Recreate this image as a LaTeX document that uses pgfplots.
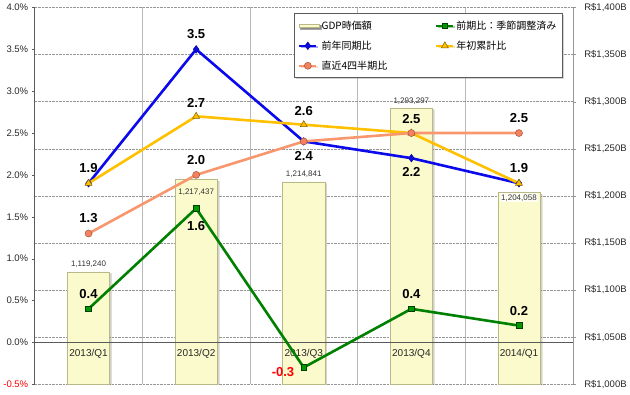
\documentclass[border=0pt]{standalone}
\usepackage{pgfplots}
\pgfplotsset{compat=1.18}
\usepackage{fontspec}
\setmainfont{Liberation Sans}
\newfontfamily\cjk{Noto Sans CJK JP}
\usetikzlibrary{shadows}
\definecolor{barfill}{RGB}{250,250,205}
\definecolor{bardraw}{RGB}{185,185,135}
\definecolor{cgreen}{RGB}{0,128,0}
\definecolor{cblue}{RGB}{10,10,235}
\definecolor{cgold}{RGB}{255,192,0}
\definecolor{corange}{RGB}{248,150,110}
\definecolor{gridgray}{RGB}{150,150,150}
\definecolor{axisgray}{RGB}{90,90,90}
\definecolor{ticktext}{RGB}{40,40,40}
\tikzset{
  lbl/.style={font=\bfseries\fontsize{13}{15}\selectfont, text=black},
  blbl/.style={font=\fontsize{8}{9}\selectfont, text=black!80},
}
\begin{document}
\begin{tikzpicture}
\pgfplotsset{
  common/.style={
    scale only axis, width=537pt, height=376pt,
    xmin=-0.5, xmax=4.5,
    tick align=outside, major tick length=3pt,
    ticklabel style={font=\fontsize{9.5}{11}\selectfont, text=ticktext},
    /pgf/number format/assume math mode=true,
  },
}
% ---------- bars (right axis) ----------
\begin{axis}[common,
  ybar, bar width=42pt,
  ymin=1000, ymax=1400,
  axis y line*=right,
  axis x line*=bottom,
  x axis line style={draw=none},
  y axis line style={draw=gridgray},
  ytick={1000,1050,1100,1150,1200,1250,1300,1350,1400},
  yticklabels={{R\$1,000B},{R\$1,050B},{R\$1,100B},{R\$1,150B},{R\$1,200B},{R\$1,250B},{R\$1,300B},{R\$1,350B},{R\$1,400B}},
  yticklabel style={xshift=5pt},
  xtick={0.5,1.5,2.5,3.5}, xticklabels={},
  xmajorgrids, ymajorgrids,
  x grid style={gray!55, solid},
  y grid style={gridgray, densely dotted},
  x tick style={draw=none},
  y tick style={gridgray},
]
\addplot[fill=barfill, draw=bardraw, line width=0.6pt,
  drop shadow={shadow xshift=1.8pt, shadow yshift=-1.8pt, opacity=0.3, fill=black!60}]
  coordinates {(0,1119.240) (1,1217.437) (2,1214.841) (3,1293.297) (4,1204.058)};
\node[blbl] at (axis cs:0,1127.7) {1,119,240};
\node[blbl] at (axis cs:1,1204.3) {1,217,437};
\node[blbl] at (axis cs:2,1223.4) {1,214,841};
\node[blbl] at (axis cs:3,1300.0) {1,293,297};
\node[blbl, fill=white, fill opacity=0.8, text opacity=1, inner sep=1pt] at (axis cs:4,1197.9) {1,204,058};
\end{axis}
% ---------- lines (left axis) ----------
\begin{axis}[common,
  ymin=-0.5, ymax=4,
  axis y line*=left,
  axis x line*=middle,
  y axis line style={draw=axisgray, line width=0.8pt},
  x axis line style={draw=axisgray, line width=0.8pt},
  ytick={-0.5,0,0.5,1,1.5,2,2.5,3,3.5,4},
  yticklabels={{\textcolor{red}{-0.5\%}},{0.0\%},{0.5\%},{1.0\%},{1.5\%},{2.0\%},{2.5\%},{3.0\%},{3.5\%},{4.0\%}},
  y tick style={axisgray},
  xtick={0,1,2,3,4},
  xticklabels={2013/Q1,2013/Q2,2013/Q3,2013/Q4,2014/Q1},
  x tick style={draw=none},
  xticklabel style={font=\fontsize{10}{12}\selectfont, text=ticktext},
  legend columns=2,
  legend cell align=left,
  legend style={at={(0.482,0.984)}, anchor=north west,
    draw=axisgray, fill=white, line width=0.6pt,
    font=\cjk\fontsize{10}{12}\selectfont,
    row sep=6pt, inner xsep=4pt, inner ysep=5pt,
    /tikz/every even column/.append style={column sep=46pt},
    drop shadow={shadow xshift=1.5pt, shadow yshift=-1.5pt, opacity=0.35}},
  legend image post style={line width=1.8pt},
]
\addlegendimage{legend image code/.code={\draw[fill=barfill,draw=bardraw,line width=0.6pt] (0pt,-1.8pt) rectangle (20pt,1.8pt);}}
\addlegendentry{GDP時価額}
\addplot[cgreen, line width=2.6pt, mark=square*, mark size=2.9pt,
  mark options={fill=cgreen!80!green, draw=cgreen!50!black, line width=0.6pt}]
  coordinates {(0,0.4) (1,1.6) (2,-0.3) (3,0.4) (4,0.2)};
\addlegendentry{前期比：季節調整済み}
\addplot[cblue, line width=2.6pt, mark=diamond*, mark size=3.8pt,
  mark options={fill=cblue, draw=cblue!60!black, line width=0.5pt}]
  coordinates {(0,1.9) (1,3.5) (2,2.4) (3,2.2) (4,1.9)};
\addlegendentry{前年同期比}
\addplot[cgold, line width=2.6pt, mark=triangle*, mark size=4pt,
  mark options={fill=cgold, draw=cgold!50!black, line width=0.5pt}]
  coordinates {(0,1.9) (1,2.7) (2,2.6) (3,2.5) (4,1.9)};
\addlegendentry{年初累計比}
\addplot[corange, line width=2.6pt, mark=*, mark size=3.5pt,
  mark options={fill=corange!85!red, draw=corange!60!black, line width=0.5pt}]
  coordinates {(0,1.3) (1,2.0) (2,2.4) (3,2.5) (4,2.5)};
\addlegendentry{直近4四半期比}
% data labels
\node[lbl, anchor=south, yshift=7pt] at (axis cs:0,1.9) {1.9};
\node[lbl, anchor=south, yshift=7pt] at (axis cs:0,1.3) {1.3};
\node[lbl, anchor=south, yshift=7pt] at (axis cs:0,0.4) {0.4};
\node[lbl, anchor=south, yshift=7pt] at (axis cs:1,3.5) {3.5};
\node[lbl, anchor=south, yshift=5pt] at (axis cs:1,2.7) {2.7};
\node[lbl, anchor=south, yshift=7pt] at (axis cs:1,2.0) {2.0};
\node[lbl, anchor=north, yshift=-9pt] at (axis cs:1,1.6) {1.6};
\node[lbl, anchor=south, yshift=5pt] at (axis cs:2,2.6) {2.6};
\node[lbl, anchor=north, yshift=-6pt] at (axis cs:2,2.4) {2.4};
\node[lbl, text=red, anchor=east, xshift=-6pt, yshift=-5pt] at (axis cs:2,-0.3) {-0.3};
\node[lbl, anchor=south, yshift=6pt] at (axis cs:3,2.5) {2.5};
\node[lbl, anchor=north, yshift=-6pt] at (axis cs:3,2.2) {2.2};
\node[lbl, anchor=south, yshift=7pt] at (axis cs:3,0.4) {0.4};
\node[lbl, anchor=south, yshift=7pt] at (axis cs:4,2.5) {2.5};
\node[lbl, anchor=south, yshift=7pt] at (axis cs:4,1.9) {1.9};
\node[lbl, anchor=south, yshift=6pt] at (axis cs:4,0.2) {0.2};
\end{axis}
\end{tikzpicture}
\end{document}
